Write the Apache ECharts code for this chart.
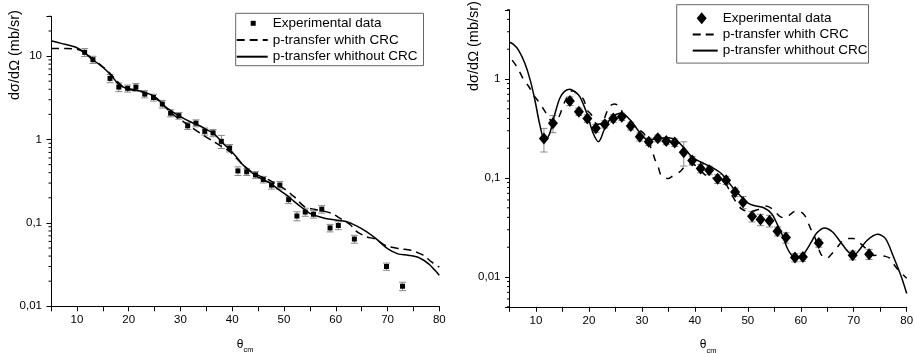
<!DOCTYPE html>
<html><head><meta charset="utf-8">
<script src="https://cdn.jsdelivr.net/npm/echarts@6/dist/echarts.min.js"></script>
<style>html,body{margin:0;padding:0;background:#fff}#c{width:915px;height:354px}</style>
</head><body><div id="c"></div>
<script>
// ---------- LEFT PANEL DATA ----------
const leftExpTheta = [11.5,13.1,16.4,18.1,19.8,21.4,23.1,24.8,26.5,28.1,29.7,31.4,33.0,34.7,36.3,37.9,39.5,41.1,42.8,44.5,46.0,47.6,49.2,50.9,52.5,54.1,55.7,57.3,58.9,60.5,63.6,69.8,72.9];
const leftExpValue = [11.1,9.05,5.4,4.25,4.1,4.25,3.5,3.19,2.66,2.07,1.93,1.46,1.57,1.25,1.2,0.95,0.79,0.42,0.41,0.377,0.331,0.284,0.284,0.19,0.121,0.135,0.127,0.146,0.087,0.093,0.064,0.030,0.0174];
const leftExpError = [1.2,0.9,0.6,0.5,0.4,0.45,0.35,0.3,0.28,0.2,0.18,0.14,0.15,0.12,0.12,0.17,0.08,0.05,0.04,0.035,0.03,0.03,0.03,0.02,0.015,0.015,0.013,0.015,0.009,0.01,0.007,0.003,0.002];
const leftCrcTheta = [5,8,10,11.5,13,14.5,16,17.5,18.7,20,21.5,23,24.5,26,27.5,29,30.5,32,34,36,38,39.5,41,42.5,44,45.5,47,48.5,50,52,54,56,57.3,59.2,60.8,62.8,64,66,67.6,69.8,72.4,74.5,76.9,78.5,80];
const leftCrcValue = [12.3,12.3,12.1,11.0,9.3,7.9,6.6,5.2,4.4,4.0,3.85,3.65,3.35,2.85,2.3,1.9,1.65,1.42,1.17,0.98,0.82,0.72,0.58,0.47,0.40,0.36,0.33,0.29,0.258,0.205,0.156,0.145,0.14,0.13,0.114,0.095,0.079,0.068,0.064,0.053,0.049,0.047,0.041,0.034,0.0295];
const leftNoCrcTheta = [5,7,9,10,11.5,13,14.5,15.5,16.8,18,18.7,20,21.5,23,24.5,25.5,27,28.5,30,32,33.5,35,36.5,38,39.5,41,42,43,44.5,46,47.5,49,50.5,52,53.5,55,56.5,58,60,62,64,66,68,70,72,74,76,78,80];
const leftNoCrcValue = [15.3,14.2,13.2,12.6,11.0,9.1,7.8,6.9,5.7,4.6,4.3,4.05,3.9,3.7,3.4,3.1,2.5,2.15,1.88,1.62,1.48,1.32,1.17,0.93,0.76,0.6,0.5,0.44,0.37,0.33,0.295,0.25,0.215,0.18,0.152,0.13,0.12,0.113,0.108,0.104,0.092,0.078,0.063,0.049,0.0425,0.041,0.0385,0.032,0.0235];

// ---------- RIGHT PANEL DATA ----------
const rightExpTheta = [11.5,13.2,16.4,18.1,19.7,21.3,23.0,24.6,26.2,27.9,29.6,31.3,33.0,34.6,36.2,37.9,39.5,41.1,42.7,44.3,45.9,47.6,49.1,50.8,52.4,54.1,55.6,57.2,58.9,60.4,63.4,69.8,72.9];
const rightExpValue = [0.25,0.357,0.60,0.468,0.40,0.318,0.35,0.40,0.416,0.335,0.261,0.233,0.252,0.237,0.228,0.182,0.150,0.125,0.12,0.098,0.095,0.072,0.057,0.041,0.038,0.037,0.029,0.025,0.0157,0.0159,0.022,0.0166,0.017];
const rightExpError = [0.067,0.07,0.06,0.04,0.035,0.03,0.03,0.035,0.035,0.03,0.025,0.02,0.02,0.02,0.02,0.05,0.015,0.012,0.012,0.01,0.009,0.007,0.008,0.005,0.005,0.005,0.003,0.003,0.0015,0.0015,0.002,0.0017,0.002];
const rightCrcTheta = [5.5,6.5,7.6,8.7,9.7,10.4,11.7,12.5,13.2,14.2,15.5,16.8,17.7,19,19.6,20.4,21.5,22.5,23.8,24.8,25.9,26.3,27.5,28.8,30,30.6,31.9,32.5,33.1,33.7,35,35.6,37.2,38.1,39.4,41,42.2,43.5,44.7,45.7,46.8,47.9,49,50.5,52,53.4,54.8,55.8,56.8,57.8,58.9,59.7,60.8,61.9,62.4,63.8,64.9,65.7,66.9,67.9,69,69.9,71,72.6,73.7,75,75.7,76.8,77.8,78.4,80];
const rightCrcValue = [1.55,1.3,1.0,0.83,0.67,0.6,0.47,0.40,0.36,0.40,0.6,0.76,0.72,0.62,0.49,0.44,0.35,0.36,0.52,0.56,0.52,0.46,0.38,0.32,0.294,0.27,0.19,0.152,0.128,0.105,0.099,0.103,0.116,0.13,0.14,0.12,0.105,0.1,0.095,0.09,0.07,0.056,0.048,0.046,0.048,0.052,0.048,0.042,0.0395,0.042,0.046,0.046,0.0415,0.0305,0.0276,0.017,0.0154,0.0168,0.020,0.0232,0.0245,0.0245,0.0224,0.0187,0.0165,0.0166,0.0163,0.0155,0.0129,0.0118,0.0097];
const rightNoCrcTheta = [5,5.7,6.7,7.9,8.9,9.8,10.8,11.7,12.6,13.6,14.5,15.4,16.4,17.4,18.3,19.6,20.8,21.8,23,24.3,26.2,27.8,30,31.2,33,35,36.5,38,39.5,41,43,45,46,47.5,48.5,50,51,53,54.5,55.5,56.5,57.5,58.5,59.5,60.5,62,63,64.5,66,67.5,69,70,71,72.5,74.5,76,77.5,79,80];
const rightNoCrcValue = [2.35,2.25,1.96,1.44,0.98,0.61,0.33,0.235,0.283,0.45,0.64,0.75,0.79,0.74,0.66,0.45,0.283,0.233,0.318,0.41,0.45,0.385,0.27,0.242,0.25,0.255,0.24,0.2,0.162,0.146,0.13,0.111,0.096,0.076,0.067,0.056,0.053,0.05,0.0436,0.0346,0.0266,0.0193,0.0163,0.016,0.017,0.0226,0.0278,0.0313,0.0285,0.0226,0.0179,0.0166,0.0186,0.0234,0.027,0.0244,0.016,0.01,0.0068];

// ---------- AXES / TICKS ----------
const xMin = 5, xMax = 80, xStep = 5;
const leftYMin = 0.01, leftYMax = 30;
const rightYMin = 0.005, rightYMax = 5;
const leftMajorTicks = [0.01, 0.1, 1, 10];
const rightMajorTicks = [0.01, 0.1, 1];
const leftMinorTicks = [0.02,0.03,0.04,0.05,0.06,0.07,0.08,0.09,0.2,0.3,0.4,0.5,0.6,0.7,0.8,0.9,2,3,4,5,6,7,8,9,20,30];
const rightMinorTicks = [0.005,0.006,0.007,0.008,0.009,0.02,0.03,0.04,0.05,0.06,0.07,0.08,0.09,0.2,0.3,0.4,0.5,0.6,0.7,0.8,0.9,2,3,4,5];
const legendNames = ['Experimental data', 'p-transfer whith CRC', 'p-transfer whithout CRC'];
const yAxisTitle = 'dσ/dΩ (mb/sr)';

const FONT = '"Liberation Sans", Arial, sans-serif';
const zip = (a, b) => a.map((v, i) => [v, b[i]]);

function logLabel(majors) {
  return function (v) {
    for (const t of majors) {
      if (Math.abs(Math.log10(v) - Math.log10(t)) < 1e-6) return String(t).replace('.', ',');
    }
    return '';
  };
}

function xAxisCfg(gi) {
  return {
    type: 'value', gridIndex: gi, min: xMin, max: xMax, interval: xStep,
    axisLine: { onZero: false, lineStyle: { color: '#000', width: 1 } },
    axisTick: { length: 5, lineStyle: { color: '#000' } },
    axisLabel: { color: '#000', fontSize: 11.5, fontFamily: FONT, margin: 8,
      formatter: v => (v % 10 === 0 ? String(v) : '') },
    splitLine: { show: false },
    name: '{t|θ}{s|cm}', nameLocation: 'middle', nameGap: 32,
    nameTextStyle: { color: '#000', fontFamily: FONT,
      rich: { t: { fontSize: 12, fontFamily: FONT, color: '#000', verticalAlign: 'top' },
              s: { fontSize: 7.5, fontFamily: FONT, color: '#000', verticalAlign: 'bottom', lineHeight: 16 } } }
  };
}
function yAxisCfg(gi, mn, mx, majors) {
  return {
    type: 'log', logBase: 10, gridIndex: gi, min: mn, max: mx,
    axisLine: { show: true, lineStyle: { color: '#000', width: 1 } },
    axisTick: { show: true, length: 4.5, lineStyle: { color: '#000' } },
    axisLabel: { color: '#000', fontSize: 11.5, fontFamily: FONT, margin: 9, formatter: logLabel(majors),
      showMinLabel: true, showMaxLabel: true },
    splitLine: { show: false }
  };
}

function errorSeries(gi, th, val, err) {
  return {
    type: 'custom', xAxisIndex: gi, yAxisIndex: gi, silent: true, z: 2,
    data: th.map((t, i) => [t, val[i] - err[i], val[i] + err[i]]),
    encode: { x: 0, y: [1, 2] },
    renderItem(params, api) {
      const lo = api.coord([api.value(0), api.value(1)]);
      const hi = api.coord([api.value(0), api.value(2)]);
      const w = 3.5, st = { stroke: '#8a8a8a', lineWidth: 1 };
      return { type: 'group', children: [
        { type: 'line', shape: { x1: lo[0], y1: lo[1], x2: hi[0], y2: hi[1] }, style: st },
        { type: 'line', shape: { x1: lo[0] - w, y1: lo[1], x2: lo[0] + w, y2: lo[1] }, style: st },
        { type: 'line', shape: { x1: hi[0] - w, y1: hi[1], x2: hi[0] + w, y2: hi[1] }, style: st }
      ] };
    }
  };
}
function minorTickSeries(gi, ticks) {
  return {
    type: 'custom', xAxisIndex: gi, yAxisIndex: gi, silent: true, clip: false, z: 5,
    data: ticks.map(v => [xMin, v]),
    encode: { x: 0, y: 1 },
    renderItem(params, api) {
      const p = api.coord([api.value(0), api.value(1)]);
      return { type: 'line', shape: { x1: p[0] - 2.5, y1: p[1], x2: p[0], y2: p[1] },
        style: { stroke: '#000', lineWidth: 1 } };
    }
  };
}
function lineSeries(gi, name, th, val, dash) {
  return {
    type: 'line', name, xAxisIndex: gi, yAxisIndex: gi, data: zip(th, val),
    symbol: 'none', showSymbol: false, smooth: 0.3, z: 3,
    lineStyle: { color: '#000', width: 1.5, type: dash },
    itemStyle: { color: '#000' }
  };
}
const hiddenSymbol = { opacity: 0, color: 'rgba(0,0,0,0)', borderWidth: 0 };
// legend icons: invisible move-to corners fix the icon's bounding box so the marker keeps its size
const squareIcon = 'path://M0,0 M31,5 M14,0 L19,0 L19,5 L14,5 Z';
const diamondIcon = 'path://M0,0 M25,12 M9,0 L14,6 L9,12 L4,6 Z';

const option = {
  animation: false,
  textStyle: { fontFamily: FONT },
  grid: [
    { left: 51, right: 475.7, top: 16.3, bottom: 47.7, containLabel: false, outerBoundsMode: 'none' },
    { left: 509.5, right: 8.3, top: 9.8, bottom: 47.2, containLabel: false, outerBoundsMode: 'none' }
  ],
  xAxis: [xAxisCfg(0), xAxisCfg(1)],
  yAxis: [yAxisCfg(0, leftYMin, leftYMax, leftMajorTicks), yAxisCfg(1, rightYMin, rightYMax, rightMajorTicks)],
  legend: [
    { orient: 'vertical', left: 235.7, top: 13.3, padding: [3, 6, 2, 0], itemGap: 2.7,
      itemWidth: 31, itemHeight: 5,
      borderColor: '#666', borderWidth: 1, backgroundColor: '#fff',
      textStyle: { color: '#000', fontSize: 13.5, fontFamily: FONT },
      data: [{ name: legendNames[0], icon: squareIcon },
             { name: legendNames[1], itemStyle: hiddenSymbol },
             { name: legendNames[2], itemStyle: hiddenSymbol }] },
    { orient: 'vertical', left: 676.7, top: 4.7, padding: [6.5, 1, 5.5, 15], itemGap: 2.2,
      itemWidth: 25, itemHeight: 12,
      borderColor: '#666', borderWidth: 1, backgroundColor: '#fff',
      textStyle: { color: '#000', fontSize: 13.5, fontFamily: FONT },
      data: [{ name: legendNames[0], icon: diamondIcon },
             { name: legendNames[1], itemStyle: hiddenSymbol },
             { name: legendNames[2], itemStyle: hiddenSymbol }] }
  ],
  graphic: [
    { type: 'text', x: 15, y: 55, rotation: Math.PI / 2,
      style: { text: yAxisTitle, fill: '#000', font: '14.5px ' + FONT, align: 'center', verticalAlign: 'middle' } },
    { type: 'text', x: 473.5, y: 46, rotation: Math.PI / 2,
      style: { text: yAxisTitle, fill: '#000', font: '14.5px ' + FONT, align: 'center', verticalAlign: 'middle' } }
  ],
  series: [
    minorTickSeries(0, leftMinorTicks),
    errorSeries(0, leftExpTheta, leftExpValue, leftExpError),
    lineSeries(0, legendNames[1], leftCrcTheta, leftCrcValue, [8, 5]),
    lineSeries(0, legendNames[2], leftNoCrcTheta, leftNoCrcValue, 'solid'),
    { type: 'scatter', name: legendNames[0], xAxisIndex: 0, yAxisIndex: 0, data: zip(leftExpTheta, leftExpValue),
      symbol: 'rect', symbolSize: 5, itemStyle: { color: '#000', opacity: 1 }, z: 4 },

    minorTickSeries(1, rightMinorTicks),
    errorSeries(1, rightExpTheta, rightExpValue, rightExpError),
    lineSeries(1, legendNames[1], rightCrcTheta, rightCrcValue, [7, 7]),
    lineSeries(1, legendNames[2], rightNoCrcTheta, rightNoCrcValue, 'solid'),
    { type: 'scatter', name: legendNames[0], xAxisIndex: 1, yAxisIndex: 1, data: zip(rightExpTheta, rightExpValue),
      symbol: 'diamond', symbolSize: [10, 12], itemStyle: { color: '#000', opacity: 1 }, z: 4 }
  ]
};

const chart = echarts.init(document.getElementById('c'), null, { renderer: 'canvas' });
chart.setOption(option);
</script>
</body></html>
